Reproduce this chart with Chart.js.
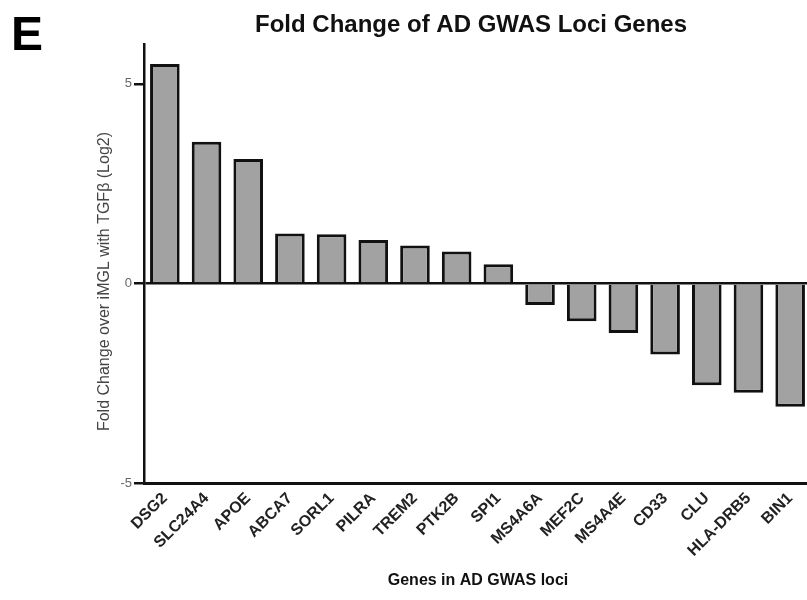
<!DOCTYPE html>
<html lang="en">
<head>
    <meta charset="UTF-8">
    <title>Fold Change of AD GWAS Loci Genes</title>
    <script src="https://cdnjs.cloudflare.com/ajax/libs/Chart.js/4.4.1/chart.umd.min.js"></script>
    <style>
        html, body { margin: 0; padding: 0; background: #fff; overflow: hidden; }
        #wrap { width: 807px; height: 600px; overflow: hidden; position: relative; }
        #box { width: 811px; height: 600px; position: absolute; left: 0; top: 0; }
    </style>
</head>
<body>
    <div id="wrap">
        <div id="box"><canvas id="gwasChart"></canvas></div>
    </div>
    <script>
        // genes in AD GWAS loci, sorted by fold change
        const genes = ['DSG2', 'SLC24A4', 'APOE', 'ABCA7', 'SORL1', 'PILRA', 'TREM2', 'PTK2B',
                       'SPI1', 'MS4A6A', 'MEF2C', 'MS4A4E', 'CD33', 'CLU', 'HLA-DRB5', 'BIN1'];
        // log2 fold change over iMGL with TGFb
        const foldChange = [5.5, 3.55, 3.12, 1.25, 1.23, 1.09, 0.95, 0.80,
                            0.48, -0.54, -0.95, -1.24, -1.78, -2.55, -2.74, -3.09];
        const yTicks = [-5, 0, 5];
        const yMin = -5;
        const yMax = 6;

        const FONT = '"Liberation Sans", Arial, Helvetica, sans-serif';

        // panel letter, title and axis titles
        const labelsPlugin = {
            id: 'labels',
            afterDraw(chart) {
                const c = chart.ctx;
                const area = chart.chartArea;
                c.save();
                c.fillStyle = '#000';
                c.textAlign = 'left';
                c.textBaseline = 'alphabetic';
                c.font = 'bold 48px ' + FONT;
                c.fillText('E', 11, 50);

                c.textAlign = 'center';
                c.fillStyle = '#111';
                c.font = 'bold 24px ' + FONT;
                c.fillText('Fold Change of AD GWAS Loci Genes', 471, 32);

                c.font = 'bold 16px ' + FONT;
                c.fillText('Genes in AD GWAS loci', 478, 585);

                c.translate(109, (area.top + area.bottom) / 2 + 18);
                c.rotate(-Math.PI / 2);
                c.fillStyle = '#444';
                c.font = '16px ' + FONT;
                c.fillText('Fold Change over iMGL with TGF\u03b2 (Log2)', 0, 0);
                c.restore();
            }
        };

        const ctx = document.getElementById('gwasChart').getContext('2d');
        new Chart(ctx, {
            type: 'bar',
            data: {
                labels: genes,
                datasets: [{
                    data: foldChange,
                    backgroundColor: '#a2a2a2',
                    borderColor: '#111',
                    borderWidth: 3,
                    borderSkipped: 'start',
                    barPercentage: 0.71,
                    categoryPercentage: 1.0
                }]
            },
            options: {
                responsive: true,
                maintainAspectRatio: false,
                animation: false,
                layout: { padding: { top: 44, right: 0, bottom: 0, left: 0 } },
                plugins: {
                    legend: { display: false },
                    tooltip: { enabled: false }
                },
                scales: {
                    x: {
                        grid: { display: false, drawTicks: false },
                        border: { display: true, color: '#111', width: 3 },
                        ticks: {
                            maxRotation: 45,
                            minRotation: 45,
                            autoSkip: false,
                            padding: 6,
                            color: '#222',
                            font: { family: FONT, size: 16, weight: 'bold' }
                        },
                        afterFit(scale) { scale.height = 117; }
                    },
                    y: {
                        min: yMin,
                        max: yMax,
                        afterBuildTicks(scale) {
                            scale.ticks = yTicks.map(v => ({ value: v }));
                        },
                        grid: {
                            drawOnChartArea: true,
                            color: c => (c.tick && c.tick.value === 0) ? '#111' : 'rgba(0,0,0,0)',
                            lineWidth: 2.5,
                            tickColor: '#111',
                            tickLength: 10
                        },
                        border: { display: true, color: '#111', width: 2.5 },
                        ticks: {
                            padding: 2,
                            color: '#666',
                            font: { family: FONT, size: 13 }
                        },
                        afterFit(scale) { scale.width = 144; }
                    }
                }
            },
            plugins: [labelsPlugin]
        });
    </script>
</body>
</html>
